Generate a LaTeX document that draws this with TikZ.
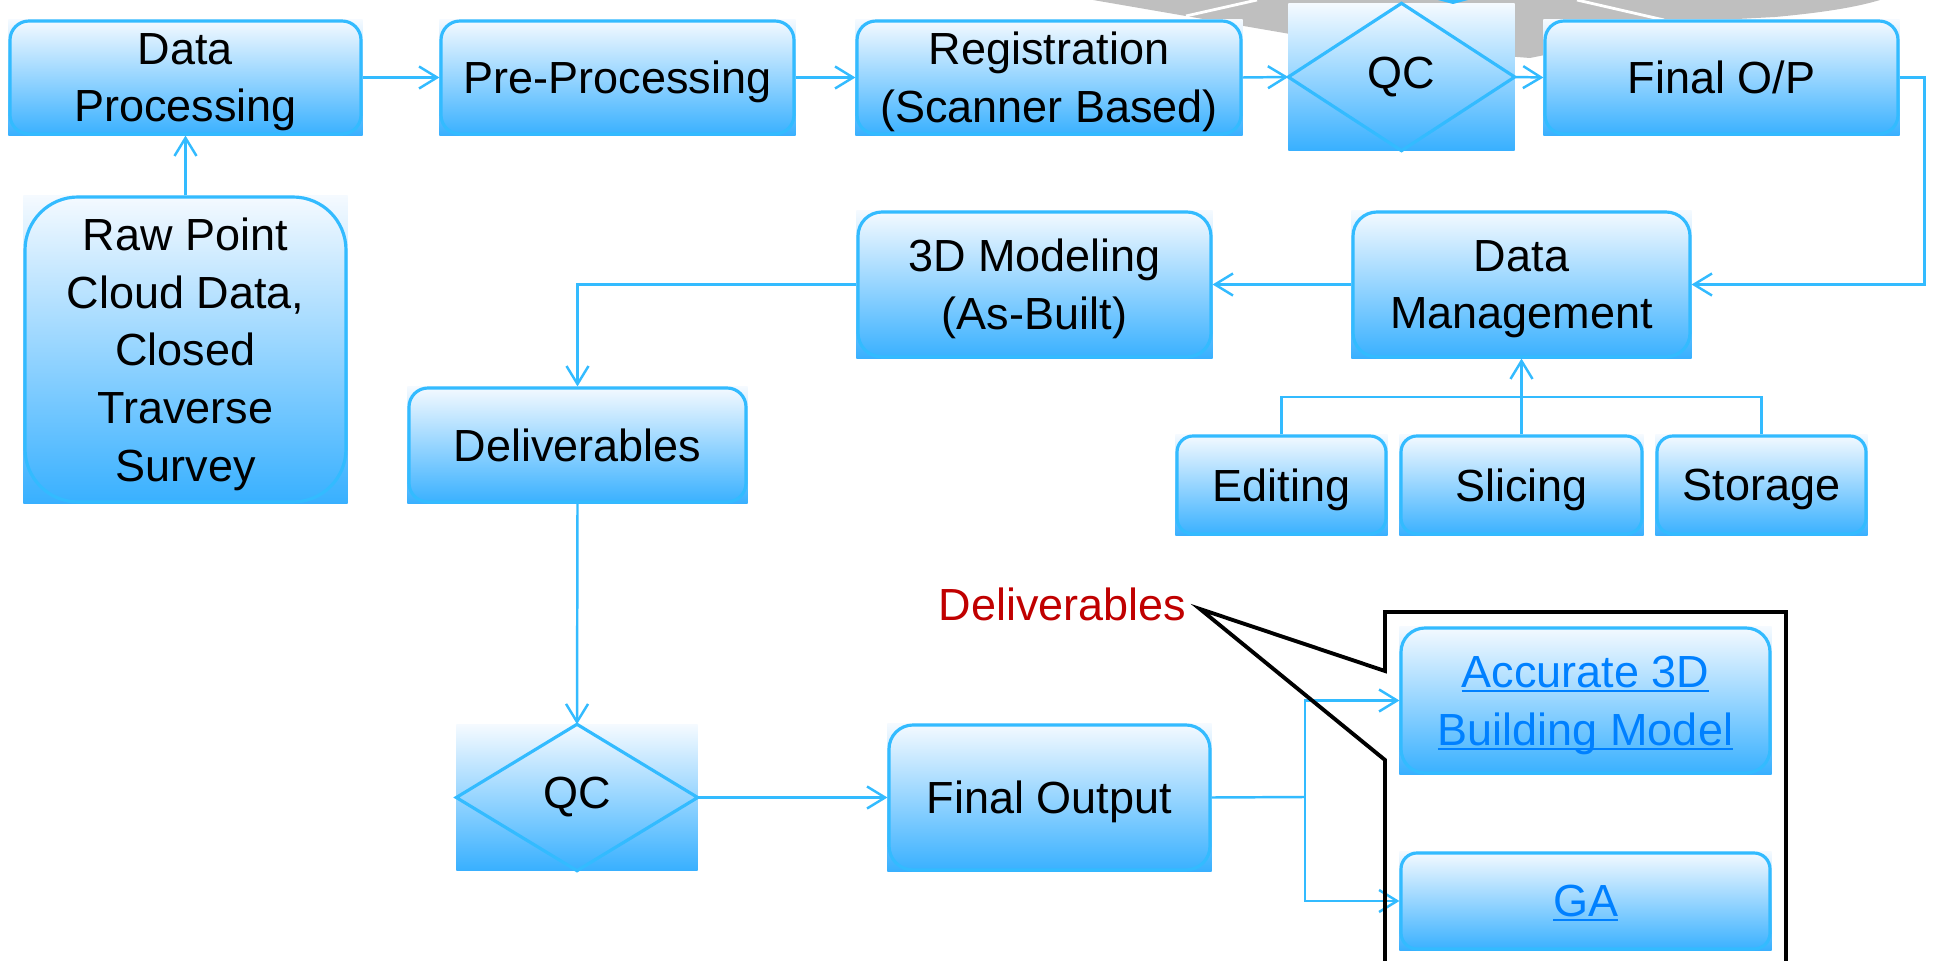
\documentclass[tikz,border=0pt]{standalone}
\usepackage{fontspec}
\setmainfont{Liberation Sans}
\usetikzlibrary{arrows.meta,calc}
\pgfdeclarelayer{bg}
\pgfsetlayers{bg,main}
\definecolor{bord}{RGB}{51,187,255}
\definecolor{shtop}{RGB}{245,250,255}
\definecolor{shbot}{RGB}{56,176,255}
\definecolor{lnkc}{RGB}{0,128,255}
\definecolor{redc}{RGB}{192,0,0}
\definecolor{grayc}{RGB}{191,191,191}
\newsavebox\lnkbox
\newcommand{\lnk}[1]{\leavevmode\sbox\lnkbox{#1}\rlap{\rule[-0.1em]{\wd\lnkbox}{0.045em}}\usebox\lnkbox}
\newcommand{\fs}{\fontsize{12.8pt}{16.4pt}\selectfont}
\begin{document}
\begin{tikzpicture}[x=0.01cm,y=-0.01cm,
  bx/.style={draw=bord,line width=0.9pt,inner sep=0pt,align=center,font=\fs,text depth=0pt},
  qcbox/.style={inner sep=0pt,font=\fs},
  area/.style n args={4}{at={({(#1+#3)/2},{(#2+#4)/2})},minimum width={(#3-#1)*0.01cm},minimum height={(#4-#2)*0.01cm}},
  conn/.style={draw=bord,line width=0.7pt,-{Straight Barb[length=1.8mm,width=2.2mm]}},
  plain/.style={draw=bord,line width=0.7pt},
  sh/.style={top color=shtop,bottom color=shbot},
  dia/.style={draw=bord,line width=0.9pt}]
\useasboundingbox (0,0) rectangle (1933,961);

% nodes
\node[bx,rounded corners=0.19cm,area={10}{21}{361}{134}] (dp) {Data\\Processing};
\node[bx,rounded corners=0.19cm,area={441}{21}{794}{134}] (pp) {Pre-Processing};
\node[bx,rounded corners=0.19cm,area={857}{21}{1241}{134}] (reg) {Registration\\(Scanner Based)};
\node[qcbox,area={1289}{4}{1514}{150}] (qc1) {QC};
\node[bx,rounded corners=0.19cm,area={1545}{21}{1898}{134}] (fop) {Final O/P};
\node[bx,rounded corners=0.53cm,area={25}{197}{346}{502}] (raw) {Raw Point\\Cloud Data,\\Closed\\Traverse\\Survey};
\node[bx,rounded corners=0.24cm,area={858}{212}{1211}{357}] (m3d) {3D Modeling\\(As-Built)};
\node[bx,rounded corners=0.24cm,area={1353}{212}{1690}{357}] (dm) {Data\\Management};
\node[bx,rounded corners=0.19cm,area={409}{388}{746}{502}] (dlv) {Deliverables};
\node[bx,rounded corners=0.16cm,area={1177}{436}{1386}{534}] (ed) {Editing};
\node[bx,rounded corners=0.16cm,area={1401}{436}{1642}{534}] (sl) {Slicing};
\node[bx,rounded corners=0.16cm,area={1657}{436}{1866}{534}] (st) {Storage};
\node[qcbox,area={457}{725}{697}{870}] (qc2) {QC};
\node[bx,rounded corners=0.24cm,area={889}{725}{1210}{870}] (fo) {Final Output};
\node[bx,rounded corners=0.24cm,text=lnkc,area={1401}{628}{1770}{773}] (acc) {\lnk{Accurate 3D}\\\lnk{Building Model}};
\node[bx,rounded corners=0.16cm,text=lnkc,area={1401}{853}{1770}{949}] (ga) {\lnk{GA}};

% diamonds
\draw[dia] (qc1.west) -- (qc1.north) -- (qc1.east) -- (qc1.south) -- cycle;
\draw[dia] (qc2.west) -- (qc2.north) -- (qc2.east) -- (qc2.south) -- cycle;

% background: gray shape and box shadings
\begin{pgfonlayer}{bg}
  \fill[grayc] (1093,0) -- (1290,34) -- (1400,48) -- (1530,58) -- (1620,40) -- (1700,21) -- (1775,17) .. controls (1830,12) and (1860,6) .. (1880,0) -- cycle;
  \draw[white,line width=0.8pt] (1186,16) -- (1257,0);
  \draw[white,line width=0.8pt] (1577,0) -- (1664,20);
  \foreach \n in {dp,pp,reg,qc1,fop,raw,m3d,dm,dlv,ed,sl,st,qc2,fo,acc,ga}
    \shade[sh] (\n.south west) rectangle (\n.north east);
\end{pgfonlayer}
\fill[bord] (1438,0) -- (1468,0) -- (1453,4) -- cycle;

% connectors
\draw[conn] (dp.east) -- (pp.west);
\draw[conn] (pp.east) -- (reg.west);
\draw[conn] (reg.east) -- (qc1.west);
\draw[conn] (qc1.east) -- (fop.west);
\draw[conn] (raw.north) -- (dp.south);
\draw[conn] (fop.east) -- ++(25,0) |- (dm.east);
\draw[conn] (dm.west) -- (m3d.east);
\draw[conn] (m3d.west) -| (dlv.north);
\draw[conn] (dlv.south) -- (qc2.north);
\draw[conn] (qc2.east) -- (fo.west);
\coordinate (fj) at (1305,797);
\draw[plain] (fo.east) -- (fj);
\draw[conn] (fj) |- (acc.west);
\draw[conn] (fj) |- (ga.west);
\coordinate (bus) at (1521,397);
\draw[plain] (ed.north) |- (bus) -| (st.north);
\draw[conn] (sl.north) -- (dm.south);

% callout
\coordinate (tip) at (1200,609);
\node[font=\fs,text=redc,anchor=base east,inner sep=0pt] (dtxt) at (1187,620) {Deliverables};
\draw[black,line width=1.1pt,line join=miter] (1385,990) -- (1385,760) -- (tip) -- (1385,671) -- (1385,612) -- (1786,612) -- (1786,990);
\end{tikzpicture}
\end{document}
